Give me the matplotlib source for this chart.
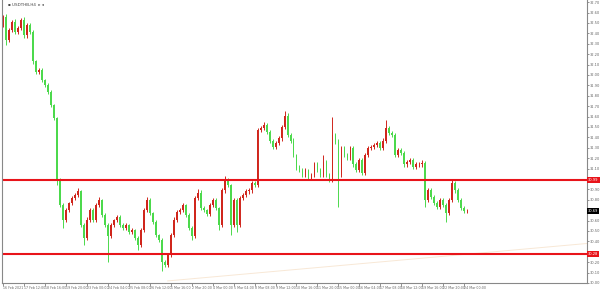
import numpy as np
import matplotlib
matplotlib.use('Agg')
import matplotlib.pyplot as plt

# closing prices per H4 candle
closes = [32.56, 32.34, 32.43, 32.51, 32.41, 32.45, 32.53, 32.38, 32.48, 32.41,
          32.13, 32.03, 32.05, 31.95, 31.90, 31.84, 31.71, 31.59, 30.99, 30.75,
          30.61, 30.70, 30.77, 30.82, 30.85, 30.88, 30.56, 30.43, 30.61, 30.70,
          30.61, 30.75, 30.80, 30.65, 30.56, 30.45, 30.56, 30.61, 30.63, 30.56,
          30.53, 30.56, 30.49, 30.51, 30.43, 30.37, 30.51, 30.70, 30.80, 30.67,
          30.59, 30.46, 30.41, 30.20, 30.17, 30.27, 30.46, 30.61, 30.68, 30.70,
          30.75, 30.65, 30.53, 30.45, 30.82, 30.87, 30.72, 30.70, 30.66, 30.75,
          30.80, 30.72, 30.56, 30.89, 30.99, 30.94, 30.56, 30.80, 30.56, 30.82,
          30.85, 30.88, 30.89, 30.96, 30.94, 31.47, 31.49, 31.52, 31.45, 31.37,
          31.31, 31.35, 31.39, 31.50, 31.61, 31.42, 31.37, 31.23, 31.11, 31.09,
          31.04, 31.09, 31.01, 31.04, 31.14, 31.09, 31.04, 31.16, 31.04, 30.99,
          31.42, 31.36, 31.04, 31.30, 31.23, 31.20, 31.30, 31.14, 31.09, 31.18,
          31.06, 31.23, 31.30, 31.31, 31.33, 31.35, 31.30, 31.37, 31.49, 31.44,
          31.42, 31.23, 31.28, 31.25, 31.14, 31.16, 31.18, 31.12, 31.14, 31.14,
          31.15, 30.80, 30.89, 30.83, 30.77, 30.73, 30.80, 30.75, 30.67, 30.80,
          30.96, 30.89, 30.80, 30.72, 30.69, 30.69]
first_open = 32.48

up_wick = [0.02, 0.03, 0.02, 0.02, 0.03, 0.02, 0.02, 0.03, 0.02, 0.02,
           0.02, 0.01, 0.02, 0.02, 0.01, 0.02, 0.02, 0.01, 0.01, 0.02,
           0.02, 0.02, 0.01, 0.02, 0.02, 0.03, 0.01, 0.02, 0.02, 0.02,
           0.02, 0.02, 0.03, 0.01, 0.02, 0.02, 0.02, 0.01, 0.02, 0.02,
           0.02, 0.02, 0.01, 0.02, 0.01, 0.02, 0.02, 0.02, 0.03, 0.02,
           0.01, 0.02, 0.01, 0.02, 0.02, 0.02, 0.02, 0.02, 0.02, 0.02,
           0.02, 0.01, 0.02, 0.02, 0.02, 0.03, 0.02, 0.02, 0.01, 0.02,
           0.02, 0.02, 0.01, 0.02, 0.04, 0.02, 0.01, 0.02, 0.02, 0.02,
           0.02, 0.02, 0.02, 0.02, 0.02, 0.02, 0.02, 0.03, 0.02, 0.02,
           0.01, 0.02, 0.02, 0.02, 0.04, 0.02, 0.02, 0.02, 0.01, 0.02,
           0.02, 0.02, 0.01, 0.02, 0.02, 0.02, 0.02, 0.07, 0.02, 0.02,
           0.18, 0.02, 0.02, 0.02, 0.02, 0.02, 0.02, 0.02, 0.02, 0.02,
           0.02, 0.02, 0.02, 0.02, 0.02, 0.02, 0.02, 0.02, 0.08, 0.02,
           0.02, 0.02, 0.02, 0.02, 0.02, 0.02, 0.02, 0.02, 0.02, 0.02,
           0.03, 0.02, 0.02, 0.02, 0.02, 0.02, 0.02, 0.02, 0.02, 0.02,
           0.03, 0.02, 0.02, 0.02, 0.02, 0.02]
dn_wick = [0.02, 0.05, 0.02, 0.02, 0.02, 0.02, 0.02, 0.02, 0.02, 0.02,
           0.02, 0.02, 0.02, 0.02, 0.02, 0.02, 0.02, 0.02, 0.05, 0.02,
           0.08, 0.02, 0.02, 0.02, 0.02, 0.02, 0.02, 0.06, 0.02, 0.02,
           0.02, 0.02, 0.02, 0.02, 0.02, 0.25, 0.02, 0.02, 0.02, 0.02,
           0.02, 0.02, 0.02, 0.02, 0.02, 0.05, 0.02, 0.02, 0.02, 0.02,
           0.02, 0.02, 0.02, 0.08, 0.02, 0.02, 0.02, 0.02, 0.02, 0.02,
           0.02, 0.02, 0.02, 0.04, 0.02, 0.02, 0.02, 0.02, 0.02, 0.02,
           0.02, 0.02, 0.05, 0.02, 0.02, 0.02, 0.10, 0.02, 0.07, 0.02,
           0.02, 0.02, 0.02, 0.02, 0.02, 0.02, 0.02, 0.02, 0.02, 0.02,
           0.02, 0.02, 0.02, 0.02, 0.02, 0.02, 0.02, 0.02, 0.02, 0.02,
           0.02, 0.02, 0.02, 0.02, 0.02, 0.02, 0.02, 0.02, 0.02, 0.02,
           0.02, 0.02, 0.31, 0.02, 0.02, 0.02, 0.02, 0.02, 0.02, 0.02,
           0.02, 0.02, 0.02, 0.02, 0.02, 0.02, 0.02, 0.02, 0.02, 0.02,
           0.02, 0.02, 0.02, 0.02, 0.02, 0.02, 0.02, 0.02, 0.02, 0.02,
           0.02, 0.07, 0.02, 0.02, 0.02, 0.02, 0.02, 0.02, 0.08, 0.02,
           0.02, 0.02, 0.02, 0.02, 0.02, 0.02]

levels = [30.99, 30.28]
level_labels = ['30.99', '30.28']
last_price = 30.69
last_label = '30.69'

trend_idx = [55, 195]
trend_px = [30.02, 30.38]

price_ticks = ['30.00', '30.10', '30.20', '30.30', '30.40', '30.50', '30.60',
               '30.70', '30.80', '30.90', '31.00', '31.10', '31.20', '31.30',
               '31.40', '31.50', '31.60', '31.70', '31.80', '31.90', '32.00',
               '32.10', '32.20', '32.30', '32.40', '32.50', '32.60', '32.70']
# tick labels hidden behind the price boxes
covered = ['30.30', '30.70', '31.00']

date_labels = ['16 Feb 2021', '17 Feb 12:00', '18 Feb 16:00', '19 Feb 20:00',
               '23 Feb 00:00', '24 Feb 04:00', '25 Feb 08:00', '26 Feb 12:00',
               '1 Mar 16:00', '2 Mar 20:00', '4 Mar 00:00', '5 Mar 04:00',
               '8 Mar 08:00', '9 Mar 12:00', '10 Mar 16:00', '11 Mar 20:00',
               '15 Mar 00:00', '16 Mar 04:00', '17 Mar 08:00', '18 Mar 12:00',
               '19 Mar 16:00', '22 Mar 20:00', '24 Mar 00:00']
date_every = 7

closes = np.array(closes)
opens = np.concatenate([[first_open], closes[:-1]])
hi = np.maximum(opens, closes) + np.array(up_wick)
lo = np.minimum(opens, closes) - np.array(dn_wick)
idx = np.arange(len(closes))
bull = closes >= opens

green = '#4cd94c'
red = '#d0261c'
colors = np.where(bull, red, green)

fig = plt.figure(figsize=(6, 2.9), dpi=100)
ax = fig.add_axes([2 / 600, 7 / 290, 585 / 600, 283 / 290])

ax.vlines(idx, lo, hi, colors=colors, linewidth=0.7)
body = np.maximum(np.abs(closes - opens), 0.006)
ax.bar(idx, body, bottom=np.minimum(opens, closes), width=0.6, color=colors,
       linewidth=0)

# faint trend line
ax.plot(trend_idx, trend_px, color='#f8e8d6', linewidth=0.7)

for lv, lab in zip(levels, level_labels):
    ax.axhline(lv, color='#e8141a', linewidth=1.5)
    ax.text(1.002, lv, lab, transform=ax.get_yaxis_transform(), fontsize=2.6,
            color='white', va='center', ha='left', clip_on=False,
            bbox=dict(boxstyle='square,pad=0.25', fc='#e8141a', ec='none'))
ax.text(1.002, last_price, last_label, transform=ax.get_yaxis_transform(),
        fontsize=2.6, color='white', va='center', ha='left', clip_on=False,
        bbox=dict(boxstyle='square,pad=0.25', fc='black', ec='none'))

ax.set_xlim(-0.33, 195)
ax.set_ylim(30.00, 32.721)

ax.yaxis.tick_right()
ax.set_yticks([float(t) for t in price_ticks])
ax.set_yticklabels(['' if t in covered else t for t in price_ticks])
ax.tick_params(axis='y', labelsize=2.6, labelcolor='#666666', color='#666666',
               length=1.5, width=0.5, pad=0.6)

pos = idx[::date_every][:len(date_labels)]
ax.set_xticks(pos)
ax.set_xticklabels(date_labels, ha='left')
ax.tick_params(axis='x', labelsize=2.3, labelcolor='#666666', color='#666666',
               length=2, width=0.5, pad=0.5)

ax.spines['top'].set_visible(False)
for s in ['left', 'right', 'bottom']:
    ax.spines[s].set_color('#888888')
    ax.spines[s].set_linewidth(0.8)

fig.text(8 / 600, 1 - 5 / 290, '\u25aa USDTHB,H4  \u25b8 \u25c2', fontsize=3,
         color='#444444', va='center')

fig.savefig('out.png', dpi=100, facecolor='white')
